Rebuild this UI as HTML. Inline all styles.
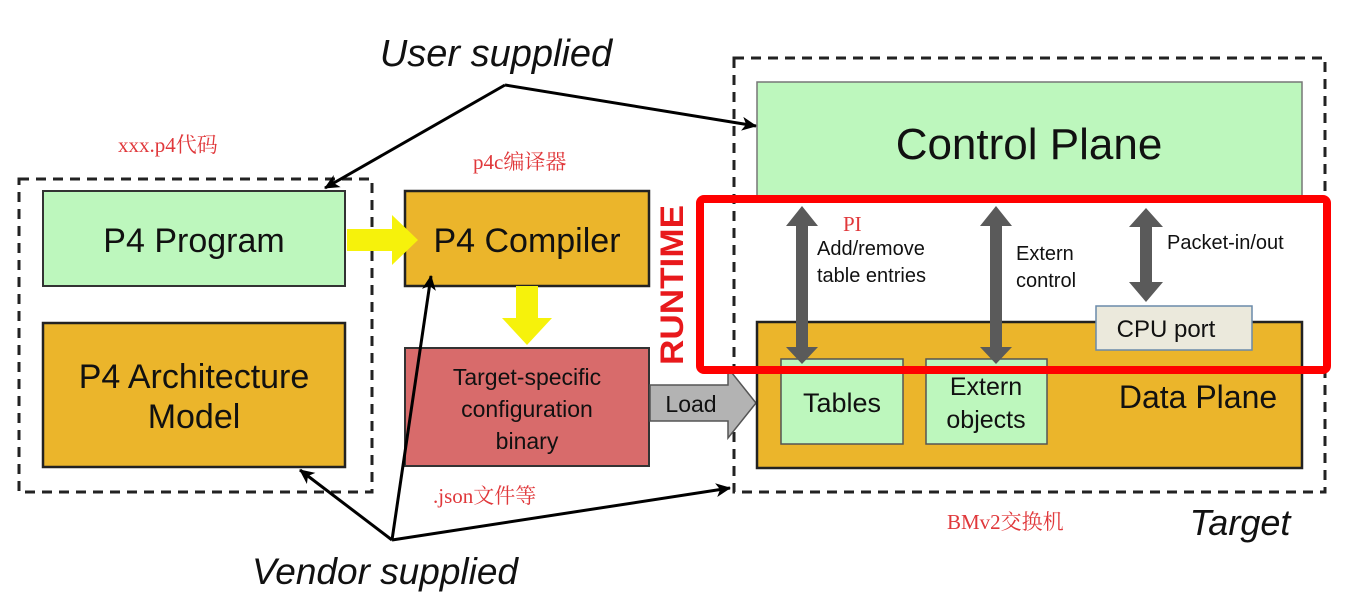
<!DOCTYPE html>
<html><head><meta charset="utf-8"><style>
body{margin:0;background:#fff;}
svg{display:block;font-family:"Liberation Sans","Noto Sans CJK SC",sans-serif;}
.cn{font-family:"Liberation Serif","Noto Serif CJK SC",serif;fill:#e0383b;font-size:21px;}
</style></head><body>
<svg width="1372" height="598" viewBox="0 0 1372 598">
<defs>
<marker id="ah2" markerWidth="16" markerHeight="16" refX="14" refY="8" orient="auto" markerUnits="userSpaceOnUse"><path d="M0,1 L15,8 L0,15 L4,8 z" fill="#000"/></marker>
</defs>
<rect x="19" y="179" width="353" height="313" fill="none" stroke="#222" stroke-width="3" stroke-dasharray="10,7"/>
<rect x="734" y="58" width="591" height="434" fill="none" stroke="#222" stroke-width="3" stroke-dasharray="10,7"/>
<rect x="43" y="191" width="302" height="95" fill="#bdf7bd" stroke="#333" stroke-width="2"/>
<text x="194" y="252" font-size="34" text-anchor="middle" fill="#111">P4 Program</text>
<rect x="43" y="323" width="302" height="144" fill="#ebb52b" stroke="#222" stroke-width="2.5"/>
<text x="194" y="388" font-size="34" text-anchor="middle" fill="#111">P4 Architecture</text>
<text x="194" y="428" font-size="34" text-anchor="middle" fill="#111">Model</text>
<rect x="405" y="191" width="244" height="95" fill="#ebb52b" stroke="#222" stroke-width="2.5"/>
<text x="527" y="252" font-size="34" text-anchor="middle" fill="#111">P4 Compiler</text>
<rect x="405" y="348" width="244" height="118" fill="#d86b6b" stroke="#333" stroke-width="2"/>
<text x="527" y="385" font-size="23" text-anchor="middle" fill="#111">Target-specific</text>
<text x="527" y="417" font-size="23" text-anchor="middle" fill="#111">configuration</text>
<text x="527" y="449" font-size="23" text-anchor="middle" fill="#111">binary</text>
<path d="M347,229 L392,229 L392,215 L418,240 L392,265 L392,251 L347,251 z" fill="#f6f20b"/>
<path d="M516,286 L538,286 L538,318 L552,318 L527,345 L502,318 L516,318 z" fill="#f6f20b"/>
<path d="M650,385 L728,385 L728,368 L756,403 L728,438 L728,421 L650,421 z" fill="#b3b3b3" stroke="#555" stroke-width="1.5"/>
<text x="691" y="412" font-size="23" text-anchor="middle" fill="#111">Load</text>
<rect x="757" y="82" width="545" height="114" fill="#bdf7bd" stroke="#777" stroke-width="1.5"/>
<text x="1029" y="159" font-size="44" text-anchor="middle" fill="#111">Control Plane</text>
<rect x="757" y="322" width="545" height="146" fill="#ebb52b" stroke="#222" stroke-width="2.5"/>
<text x="1198" y="408" font-size="32" text-anchor="middle" fill="#111">Data Plane</text>
<rect x="781" y="359" width="122" height="85" fill="#bdf7bd" stroke="#555" stroke-width="1.5"/>
<text x="842" y="412" font-size="27" text-anchor="middle" fill="#111">Tables</text>
<rect x="926" y="359" width="121" height="85" fill="#bdf7bd" stroke="#555" stroke-width="1.5"/>
<text x="986" y="395" font-size="25" text-anchor="middle" fill="#111">Extern</text>
<text x="986" y="428" font-size="25" text-anchor="middle" fill="#111">objects</text>
<rect x="1096" y="306" width="156" height="44" fill="#ebe9dc" stroke="#6a8aaa" stroke-width="1.5"/>
<text x="1166" y="337" font-size="24" text-anchor="middle" fill="#111">CPU port</text>
<g fill="#5a5a5a">
<path d="M796,226 L796,347 L786,347 L802,364 L818,347 L808,347 L808,226 L818,226 L802,206 L786,226 z"/>
<path d="M990,226 L990,347 L980,347 L996,364 L1012,347 L1002,347 L1002,226 L1012,226 L996,206 L980,226 z"/>
<path d="M1140,227 L1140,282 L1129,282 L1146,302 L1163,282 L1152,282 L1152,227 L1163,227 L1146,208 L1129,227 z"/>
</g>
<text x="817" y="255" font-size="20" fill="#111">Add/remove</text>
<text x="817" y="282" font-size="20" fill="#111">table entries</text>
<text x="1016" y="260" font-size="20" fill="#111">Extern</text>
<text x="1016" y="287" font-size="20" fill="#111">control</text>
<text x="1167" y="249" font-size="20" fill="#111">Packet-in/out</text>
<text x="843" y="231" class="cn" font-size="22">PI</text>
<rect x="700" y="199" width="627" height="171" fill="none" stroke="#f00" stroke-width="8" rx="4"/>
<text transform="translate(683,365) rotate(-90)" font-size="32" font-weight="bold" fill="#e8191c" textLength="160" lengthAdjust="spacingAndGlyphs">RUNTIME</text>
<text x="496" y="66" font-size="38" font-style="italic" text-anchor="middle" fill="#111">User supplied</text>
<text x="385" y="584" font-size="37" font-style="italic" text-anchor="middle" fill="#111">Vendor supplied</text>
<text x="1240" y="535" font-size="36" font-style="italic" text-anchor="middle" fill="#111">Target</text>
<text x="118" y="152" class="cn">xxx.p4代码</text>
<text x="473" y="169" class="cn">p4c编译器</text>
<text x="433" y="503" class="cn">.json文件等</text>
<text x="947" y="529" class="cn">BMv2交换机</text>
<g stroke="#000" stroke-width="3" fill="none">
<line x1="505" y1="85" x2="325" y2="188" marker-end="url(#ah2)"/>
<line x1="505" y1="85" x2="756" y2="126" marker-end="url(#ah2)"/>
<line x1="392" y1="540" x2="300" y2="470" marker-end="url(#ah2)"/>
<line x1="392" y1="540" x2="431" y2="276" marker-end="url(#ah2)"/>
<line x1="392" y1="540" x2="730" y2="488" marker-end="url(#ah2)"/>
</g>
</svg>
</body></html>
